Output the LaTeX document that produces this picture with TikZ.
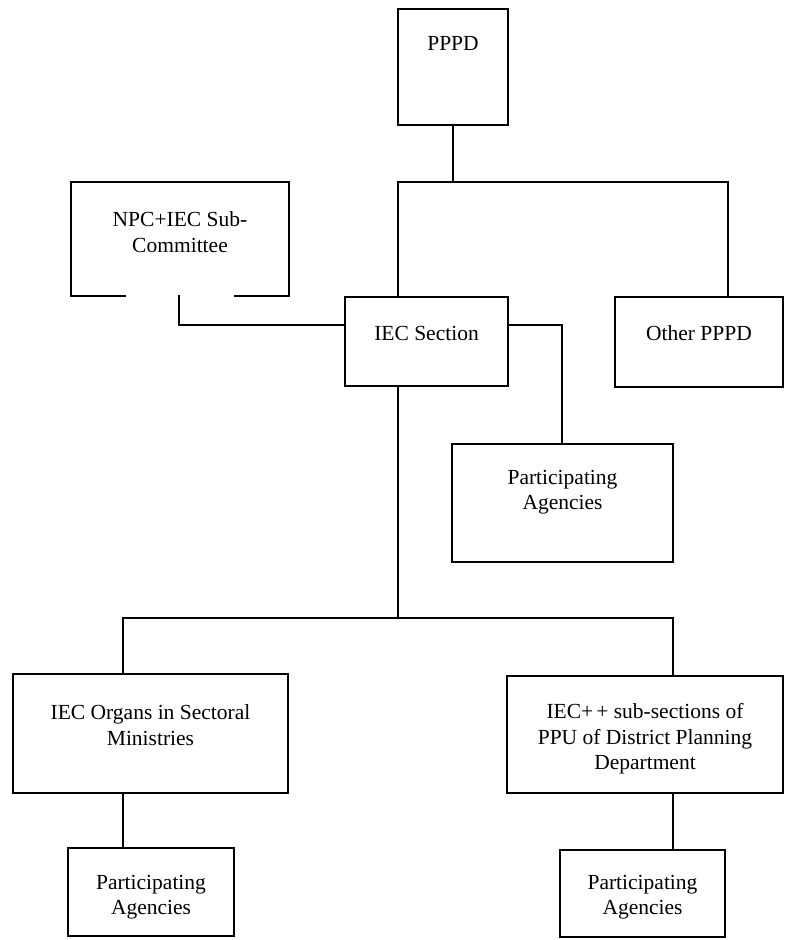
\documentclass[tikz,border=0pt]{standalone}
\usepackage{fontspec}
\setmainfont{Liberation Serif}
\usetikzlibrary{calc}
\tikzset{
  box/.style={draw, line width=2.2pt, inner sep=0pt, outer sep=0pt},
  openbox/.style={draw=none, inner sep=0pt, outer sep=0pt},
  txt/.style={inner sep=0pt, align=center, font=\fontsize{21.5}{25.5}\selectfont},
  conn/.style={line width=2.2pt, line cap=rect},
}
\begin{document}
\begin{tikzpicture}[x=1pt,y=-1pt]
\useasboundingbox[fill=white] (0,0) rectangle (790,940);
% boxes
\node[box, minimum width=110pt, minimum height=116pt] (pppd) at (453,67) {};
\node[txt] (pppdt) at (453,43) {PPPD};
\node[openbox, minimum width=218pt, minimum height=114pt] (npc) at (180,239) {};
\node[txt] (npct) at (180,232) {NPC+IEC Sub-\\Committee};
\node[box, minimum width=163pt, minimum height=89pt] (iecsec) at (426.5,341.5) {};
\node[txt] (iecsect) at (426.5,333) {IEC Section};
\node[box, minimum width=168pt, minimum height=90pt] (other) at (699,342) {};
\node[txt] (othert) at (699,333) {Other PPPD};
\node[box, minimum width=221pt, minimum height=118pt] (partmid) at (562.5,503) {};
\node[txt] (partmidt) at (562.5,492) {Participating\\Agencies};
\node[box, minimum width=275pt, minimum height=119pt] (organs) at (150.5,733.5) {};
\node[txt] (organst) at (150.5,725) {IEC Organs in Sectoral\\Ministries};
\node[box, minimum width=276pt, minimum height=117pt] (iecpp) at (645,734.5) {};
\node[txt] (iecppt) at (645,739) {IEC+\kern3pt+ sub-sections of\\PPU of District Planning\\Department};
\node[box, minimum width=166pt, minimum height=88pt] (partl) at (151,892) {};
\node[txt] (partlt) at (151,897) {Participating\\Agencies};
\node[box, minimum width=165pt, minimum height=87pt] (partr) at (642.5,893.5) {};
\node[txt] (partrt) at (642.5,897) {Participating\\Agencies};
% open-bottom border of the NPC box
\draw[conn, line cap=butt] ([xshift=55pt]npc.south west) -- (npc.south west) -- (npc.north west) -- (npc.north east) -- (npc.south east) -- ([xshift=-55pt]npc.south east);
% junctions
\coordinate (jt) at (453,182);
\coordinate (jl) at (398,182);
\coordinate (jr) at (728,182);
\coordinate (npcout) at (179,296);
\coordinate (ja) at (179,325);
\coordinate (jb) at (562,325);
\coordinate (jc) at (398,618);
\coordinate (jd) at (123,618);
\coordinate (je) at (673,618);
% connectors
\draw[conn] (pppd.south) -- (jt);
\draw[conn] (jl) -- (jr);
\draw[conn] (jl) -- (jl |- iecsec.north);
\draw[conn] (jr) -- (jr |- other.north);
\draw[conn] (npcout) -- (ja) -- (ja -| iecsec.west);
\draw[conn] (jb -| iecsec.east) -- (jb) -- (jb |- partmid.north);
\draw[conn] (jc |- iecsec.south) -- (jc);
\draw[conn] (jd) -- (je);
\draw[conn] (jd) -- (jd |- organs.north);
\draw[conn] (je) -- (je |- iecpp.north);
\draw[conn] (organs.south -| jd) -- (jd |- partl.north);
\draw[conn] (iecpp.south -| je) -- (je |- partr.north);
\end{tikzpicture}
\end{document}
